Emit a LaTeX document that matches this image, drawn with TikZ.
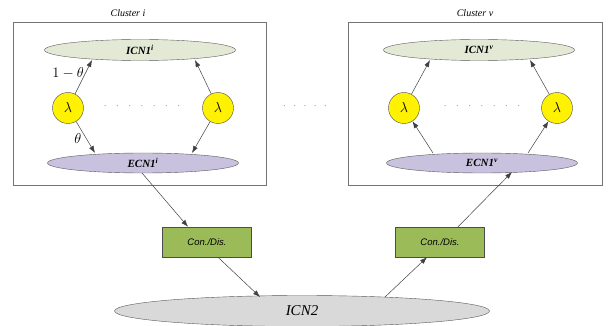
\documentclass[tikz,border=0pt]{standalone}
\usepackage{fontspec}
\setmainfont{Liberation Serif}
\setsansfont{Liberation Sans}
\usetikzlibrary{shapes.geometric,arrows.meta}

\definecolor{icnfill}{HTML}{E4E9D6}
\definecolor{ecnfill}{HTML}{C9C2DF}
\definecolor{lamfill}{HTML}{FFF200}
\definecolor{cdfill}{HTML}{9BBB59}
\definecolor{icntwo}{HTML}{D9D9D9}

\begin{document}
\begin{tikzpicture}[x=1pt,y=-1pt,
      cluster/.style = {draw=gray!90!black, line width=0.9pt},
      icn/.style = {ellipse, draw=gray!70!black, fill=icnfill, inner sep=0pt,
        minimum width=191pt, minimum height=21pt, font=\bfseries\itshape\fontsize{11}{12}\selectfont},
      ecn/.style = {icn, fill=ecnfill, minimum height=20pt},
      lam/.style = {circle, draw=gray!60!black, fill=lamfill, inner sep=0pt,
        minimum size=31pt, font=\fontsize{15}{16}\selectfont},
      condis/.style = {rectangle, draw=gray!60!black, fill=cdfill, minimum width=89pt,
        minimum height=30pt, font=\sffamily\itshape\fontsize{9.5}{11}\selectfont},
      link/.style = {draw=black!75, line width=0.5pt, -{Latex[length=7pt,width=5pt]}},
      dots/.style = {font=\fontsize{9}{10}\selectfont, text=gray}]
  \useasboundingbox (0,0) rectangle (608,326);

  % cluster i
  \draw[cluster] (13,22) rectangle (266,185);
  \node[font=\itshape\fontsize{10}{12}\selectfont] (labi) at (128,13) {Cluster i};
  \node[icn] (icni) at (140,50) {ICN1\textsuperscript{i}};
  \node[ecn] (ecni) at (143,163) {ECN1\textsuperscript{i}};
  \node[lam] (lia) at (68,108) {$\lambda$};
  \node[lam] (lib) at (218,108) {$\lambda$};
  \node[dots] (dti) at (142,106) {.\hspace{10pt}.\hspace{10pt}.\hspace{10pt}.\hspace{10pt}.\hspace{10pt}.\hspace{10pt}.};
  \draw[link] (lia) -- node[left, pos=0.6, inner sep=1pt, font=\fontsize{14}{15}\selectfont] {$1-\theta$} (92,60);
  \draw[link] (lia) -- node[left, pos=0.55, inner sep=5pt, font=\fontsize{14}{15}\selectfont] {$\theta$} (95,153);
  \draw[link] (lib) -- (195,60);
  \draw[link] (lib) -- (192,153);

  \node[dots] (dtm) at (305,106) {.\hspace{8pt}.\hspace{8pt}.\hspace{8pt}.\hspace{8pt}.};

  % cluster v
  \draw[cluster] (348,22) rectangle (602,185);
  \node[font=\itshape\fontsize{10}{12}\selectfont] (labv) at (475,13) {Cluster v};
  \node[icn] (icnv) at (479,50) {ICN1\textsuperscript{v}};
  \node[ecn] (ecnv) at (482,163) {ECN1\textsuperscript{v}};
  \node[lam] (lva) at (404,108) {$\lambda$};
  \node[lam] (lvb) at (557,108) {$\lambda$};
  \node[dots] (dtv) at (482,106) {.\hspace{10pt}.\hspace{10pt}.\hspace{10pt}.\hspace{10pt}.\hspace{10pt}.\hspace{10pt}.};
  \draw[link] (433,153) -- (lva);
  \draw[link] (528,153) -- (lvb);
  \draw[link] (lva) -- (430,60);
  \draw[link] (lvb) -- (530,60);

  % second level
  \node[condis] (cdi) at (207,242) {Con./Dis.};
  \node[condis] (cdv) at (440,242) {Con./Dis.};
  \node[ellipse, draw=gray!70!black, fill=icntwo, minimum width=375pt, minimum height=31pt,
    inner sep=0pt, font=\itshape\fontsize{15}{16}\selectfont] (icn2) at (302,311) {ICN2};
  \draw[link] (142,173) -- (cdi.north west -| 188,0);
  \draw[link] (cdi.south -| 218,0) -- (260,297);
  \draw[link] (385,297) -- (cdv.south -| 427,0);
  \draw[link] (cdv.north -| 458,0) -- (512,172);
\end{tikzpicture}
\end{document}
